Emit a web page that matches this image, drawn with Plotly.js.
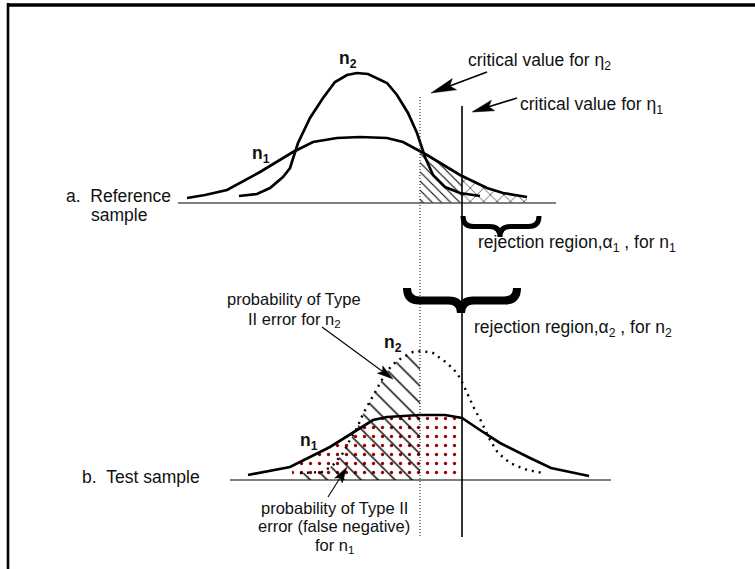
<!DOCTYPE html>
<html><head><meta charset="utf-8">
<script src="https://cdn.plot.ly/plotly-3.0.1.min.js"></script>
<style>html,body{margin:0;padding:0;background:#fff}#chart{width:755px;height:569px}</style>
</head><body><div id="chart"></div>
<script>
// ---- Data (diagram units) ----
// a. Reference sample: n1 (wide) and n2 (tall)
const refN1X = [187, 205, 227, 260, 293, 313, 337, 360, 387, 403, 427, 460, 487, 503, 527];
const refN1Y = [198, 195, 190, 172, 152, 142, 138, 137, 138, 142, 155, 175, 188, 193, 197];
const refN2X = [239, 257, 270, 283, 290, 298, 310, 323, 335, 347, 357, 368, 387, 397, 408, 417, 425, 433, 445, 460, 480];
const refN2Y = [196, 194, 188, 177, 168, 143, 118, 98, 82, 75, 73, 74, 83, 95, 113, 133, 157, 175, 187, 193, 196];
// b. Test sample: n1 (solid) and n2 (dotted)
const testN1X = [248, 290, 330, 373, 387, 420, 445, 462, 480, 500, 530, 551, 589];
const testN1Y = [475, 467, 447, 420, 417, 415, 415, 418, 430, 443, 458, 468, 476];
const testN2X = [300, 323, 333, 343, 350, 357, 363, 370, 377, 384, 392, 403, 413, 422, 433, 447, 457, 463, 468, 474, 481, 490, 498, 510, 527, 543];
const testN2Y = [473, 472, 465, 453, 440, 428, 414, 401, 388, 376, 365, 357, 352, 351, 353, 363, 373, 384, 395, 408, 421, 440, 453, 463, 470, 473];

// ---- Layout geometry ----
const crit = {n2X: 420, n1X: 462, n2Top: 97, n1Top: 106, bottom: 537};
const baseA = {x0: 178, x1: 556, y: 203};
const baseB = {x0: 230, x1: 611, y: 480};
const braces = [
  {x0: 463, x1: 539, y0: 216, y1: 237, xc: 500, w: 5},
  {x0: 407, x1: 517, y0: 288, y1: 313, xc: 461, w: 8}
];
const arrows = [
  {sx: 487, sy: 72, tx: 431, ty: 93, L: 25, W: 12, lw: 1.7},
  {sx: 517, sy: 98, tx: 472, ty: 112, L: 22, W: 11, lw: 1.7},
  {sx: 322, sy: 327, tx: 393, ty: 379, L: 16, W: 9, lw: 1.1},
  {sx: 328, sy: 497, tx: 347, ty: 467, L: 16, W: 9, lw: 1.1}
];
const FONT = 'Liberation Sans, Arial, Helvetica, sans-serif';
const FS = 17.5, FS_BLOCK = 16.5;
const labels = [
  {t: 'critical value for η<sub>2</sub>', x: 466, y: 61, a: 'left', s: FS},
  {t: 'critical value for η<sub>1</sub>', x: 518, y: 105, a: 'left', s: FS},
  {t: 'rejection region,α<sub>1</sub> , for n<sub>1</sub>', x: 476, y: 243, a: 'left', s: FS},
  {t: 'rejection region,α<sub>2</sub> , for n<sub>2</sub>', x: 472, y: 328, a: 'left', s: FS},
  {t: 'a.&nbsp;&nbsp;Reference', x: 64, y: 195.5, a: 'left', s: FS},
  {t: 'sample', x: 89, y: 215, a: 'left', s: FS},
  {t: 'b.&nbsp;&nbsp;Test sample', x: 80, y: 477, a: 'left', s: FS},
  {t: 'probability of Type', x: 294, y: 298.5, a: 'center', s: FS_BLOCK},
  {t: 'II error for n<sub>2</sub>', x: 294, y: 319.5, a: 'center', s: FS_BLOCK},
  {t: 'probability of Type II', x: 334, y: 507.5, a: 'center', s: FS_BLOCK},
  {t: 'error (false negative)', x: 334, y: 526, a: 'center', s: FS_BLOCK},
  {t: 'for n<sub>1</sub>', x: 334, y: 546, a: 'center', s: FS_BLOCK},
  {t: '<b>n<sub>2</sub></b>', x: 337, y: 59.5, a: 'left', s: FS},
  {t: '<b>n<sub>1</sub></b>', x: 250, y: 154.5, a: 'left', s: FS},
  {t: '<b>n<sub>2</sub></b>', x: 382, y: 343.5, a: 'left', s: FS},
  {t: '<b>n<sub>1</sub></b>', x: 298, y: 441.5, a: 'left', s: FS}
];

// ---- helpers ----
function yAt(xs, ys, x) {
  if (x <= xs[0]) return ys[0];
  for (let i = 0; i < xs.length - 1; i++) {
    if (x >= xs[i] && x <= xs[i + 1]) {
      const f = (x - xs[i]) / (xs[i + 1] - xs[i]);
      return ys[i] + f * (ys[i + 1] - ys[i]);
    }
  }
  return ys[ys.length - 1];
}
function under(xs, ys, x0, x1, base) {
  const px = [x0, x0], py = [base, yAt(xs, ys, x0)];
  for (let i = 0; i < xs.length; i++) if (xs[i] > x0 && xs[i] < x1) { px.push(xs[i]); py.push(ys[i]); }
  px.push(x1, x1); py.push(yAt(xs, ys, x1), base);
  return {x: px, y: py};
}
function patternTrace(reg, shape, size, solidity, color) {
  return {type: 'scatter', x: reg.x, y: reg.y, mode: 'none', fill: 'toself',
    fillcolor: 'rgba(255,255,255,0)', hoverinfo: 'skip',
    fillpattern: {shape: shape, size: size, solidity: solidity, fgcolor: color, bgcolor: 'rgba(255,255,255,0)'}};
}
function bracePath(b) {
  const ym = (b.y0 + b.y1) / 2, r = (b.y1 - b.y0) * 0.5;
  return `M${b.x0},${b.y0} Q${b.x0},${ym} ${b.x0 + r},${ym} L${b.xc - r},${ym} Q${b.xc},${ym} ${b.xc},${b.y1} ` +
         `Q${b.xc},${ym} ${b.xc + r},${ym} L${b.x1 - r},${ym} Q${b.x1},${ym} ${b.x1},${b.y0}`;
}

const traces = [
  patternTrace(under(refN1X, refN1Y, crit.n2X, crit.n1X, baseA.y), '\\', 6.5, 0.17, '#000'),
  patternTrace(under(refN1X, refN1Y, crit.n1X, refN1X[refN1X.length - 1], baseA.y), 'x', 9.5, 0.12, '#000'),
  patternTrace(under(testN1X, testN1Y, 292, crit.n1X, baseB.y), '.', 9, 0.11, '#990000'),
  patternTrace(under(testN2X, testN2Y, testN2X[0], crit.n2X, baseB.y), '\\', 12, 0.12, '#000'),
  {type: 'scatter', x: refN1X, y: refN1Y, mode: 'lines', line: {color: '#000', width: 2.7}, hoverinfo: 'skip'},
  {type: 'scatter', x: refN2X, y: refN2Y, mode: 'lines', line: {color: '#000', width: 2.7}, hoverinfo: 'skip'},
  {type: 'scatter', x: testN1X, y: testN1Y, mode: 'lines', line: {color: '#000', width: 2.7}, hoverinfo: 'skip'},
  {type: 'scatter', x: testN2X, y: testN2Y, mode: 'lines', line: {color: '#000', width: 2.4, dash: '2px,5px'}, hoverinfo: 'skip'}
];

const shapes = [
  {type: 'line', x0: 8, x1: 755, y0: 5, y1: 5, line: {color: '#000', width: 3.5}},
  {type: 'line', x0: 8, x1: 8, y0: 3, y1: 569, line: {color: '#000', width: 2.6}},
  {type: 'line', x0: baseA.x0, x1: baseA.x1, y0: baseA.y, y1: baseA.y, line: {color: '#555', width: 1.3}},
  {type: 'line', x0: baseB.x0, x1: baseB.x1, y0: baseB.y, y1: baseB.y, line: {color: '#000', width: 1.1}},
  {type: 'line', x0: crit.n2X, x1: crit.n2X, y0: crit.n2Top, y1: crit.bottom, line: {color: '#333', width: 1.2, dash: '1px,2px'}},
  {type: 'line', x0: crit.n1X, x1: crit.n1X, y0: crit.n1Top, y1: crit.bottom, line: {color: '#000', width: 1.6}}
];
braces.forEach(b => shapes.push({type: 'path', path: bracePath(b), line: {color: '#000', width: b.w}}));
arrows.forEach(a => {
  const dx = a.tx - a.sx, dy = a.ty - a.sy, len = Math.hypot(dx, dy);
  const ux = dx / len, uy = dy / len, pxv = -uy, pyv = ux;
  const bx = a.tx - a.L * ux, by = a.ty - a.L * uy;
  const nx = a.tx - a.L * 0.8 * ux, ny = a.ty - a.L * 0.8 * uy;
  shapes.push({type: 'line', x0: a.sx, y0: a.sy, x1: nx, y1: ny, line: {color: '#000', width: a.lw}});
  shapes.push({type: 'path', fillcolor: '#000', line: {color: '#000', width: 0.5},
    path: `M${a.tx},${a.ty} L${bx + pxv * a.W / 2},${by + pyv * a.W / 2} L${nx},${ny} L${bx - pxv * a.W / 2},${by - pyv * a.W / 2} Z`});
});

const annotations = labels.map(l => ({x: l.x, y: l.y, xref: 'x', yref: 'y', text: l.t, showarrow: false,
  xanchor: l.a, yanchor: 'middle', font: {family: FONT, size: l.s, color: '#111'}}));

const layout = {
  width: 755, height: 569, margin: {l: 0, r: 0, t: 0, b: 0},
  paper_bgcolor: '#fff', plot_bgcolor: '#fff', showlegend: false,
  xaxis: {range: [0, 755], visible: false, fixedrange: true},
  yaxis: {range: [569, 0], visible: false, fixedrange: true},
  shapes: shapes, annotations: annotations
};
Plotly.newPlot('chart', traces, layout, {staticPlot: true, displayModeBar: false});
</script></body></html>
